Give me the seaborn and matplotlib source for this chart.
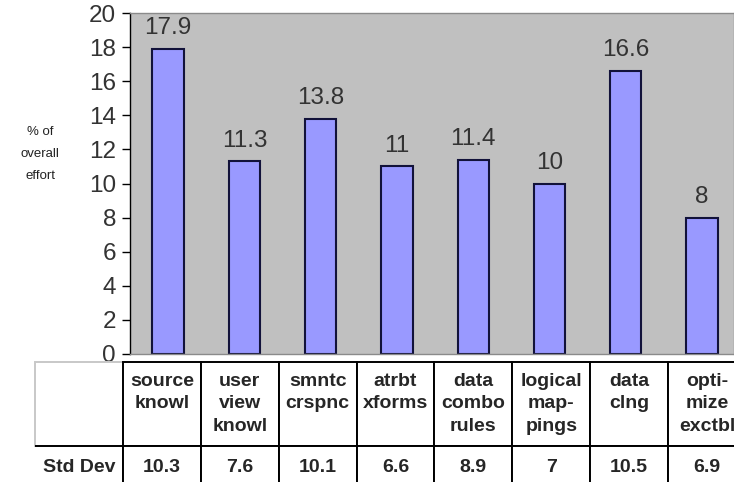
import pandas as pd
import matplotlib
matplotlib.use('Agg')
import matplotlib.pyplot as plt
import seaborn as sns

# data
tasks = ['source\nknowl', 'user\nview\nknowl', 'smntc\ncrspnc', 'atrbt\nxforms',
         'data\ncombo\nrules', 'logical\nmap-\npings', 'data\nclng', 'opti-\nmize\nexctbl']
effort = [17.9, 11.3, 13.8, 11, 11.4, 10, 16.6, 8]
std_dev = [10.3, 7.6, 10.1, 6.6, 8.9, 7, 10.5, 6.9]
y_ticks = list(range(0, 21, 2))

sns.set_style('white')
plt.rcParams['font.family'] = ['Liberation Sans', 'DejaVu Sans']

W, H = 734, 482
fig = plt.figure(figsize=(W / 100, H / 100), dpi=100)
fig.patch.set_facecolor('white')

# plot area in pixels: left 130, right 734 (cropped), top 13, bottom 354
ax = fig.add_axes([130 / W, 1 - 354 / H, (W - 130) / W, (354 - 13) / H])
ax.set_facecolor('#C0C0C0')

df = pd.DataFrame({'task': tasks, 'effort': effort})
sns.barplot(data=df, x='task', y='effort', color='#9999FF', saturation=1,
            width=0.41, edgecolor='#12123a', linewidth=1.5, errorbar=None, ax=ax)

labels = ['{:g}'.format(v) for v in effort]
ax.bar_label(ax.containers[0], labels=labels, padding=7, fontsize=17.5, color='#333333')

ax.set_xlim(-0.5, 7.42)
ax.set_ylim(0, 20)
ax.set_yticks(y_ticks)
ax.set_xticks([])
ax.set_xlabel('')
ax.tick_params(axis='y', which='major', left=True, length=6, width=1, color='black',
               pad=4, labelsize=17.5, labelcolor='#333333')
ax.set_ylabel('% of\noverall\neffort', rotation=0, fontsize=9.5,
              color='#222222', linespacing=2.1, ha='center', va='center')
ax.yaxis.set_label_coords(-0.149, 0.587)

for side in ['top', 'bottom', 'right']:
    ax.spines[side].set_color('#8a8a8a')
    ax.spines[side].set_linewidth(1)
ax.spines['left'].set_color('black')
ax.spines['left'].set_linewidth(1)

# data table underneath the chart
tab_ax = fig.add_axes([0, 0, 1, 1])
tab_ax.axis('off')
cell_text = [[''] + tasks, ['Std Dev'] + ['{:g}'.format(v) for v in std_dev]]
first_w = 88
col_w = (746 - 123) / len(tasks)
col_widths = [first_w] + [col_w] * len(tasks)
tbl = tab_ax.table(cellText=cell_text, colWidths=col_widths, cellLoc='center',
                   bbox=[35 / W, 1 - 488 / H, (746 - 35) / W, (488 - 362) / H])
tbl.auto_set_font_size(False)
tbl.set_fontsize(14)
row_heights = [84, 42]
for (r, c), cell in tbl.get_celld().items():
    cell.set_height(row_heights[r])
    cell.set_linewidth(1.4)
    cell.set_facecolor('white')
    txt = cell.get_text()
    txt.set_fontweight('bold')
    txt.set_linespacing(1.45)
    if r == 0 and c > 0 and txt.get_text().count('\n') == 1:
        txt.set_text(txt.get_text() + '\n')
    if c == 0:
        if r == 0:
            cell.set_edgecolor('#c8c8c8')
        else:
            cell.set_edgecolor('black')
            cell.visible_edges = 'TRB'
    else:
        cell.set_edgecolor('black')

fig.savefig('out.png', dpi=100)
